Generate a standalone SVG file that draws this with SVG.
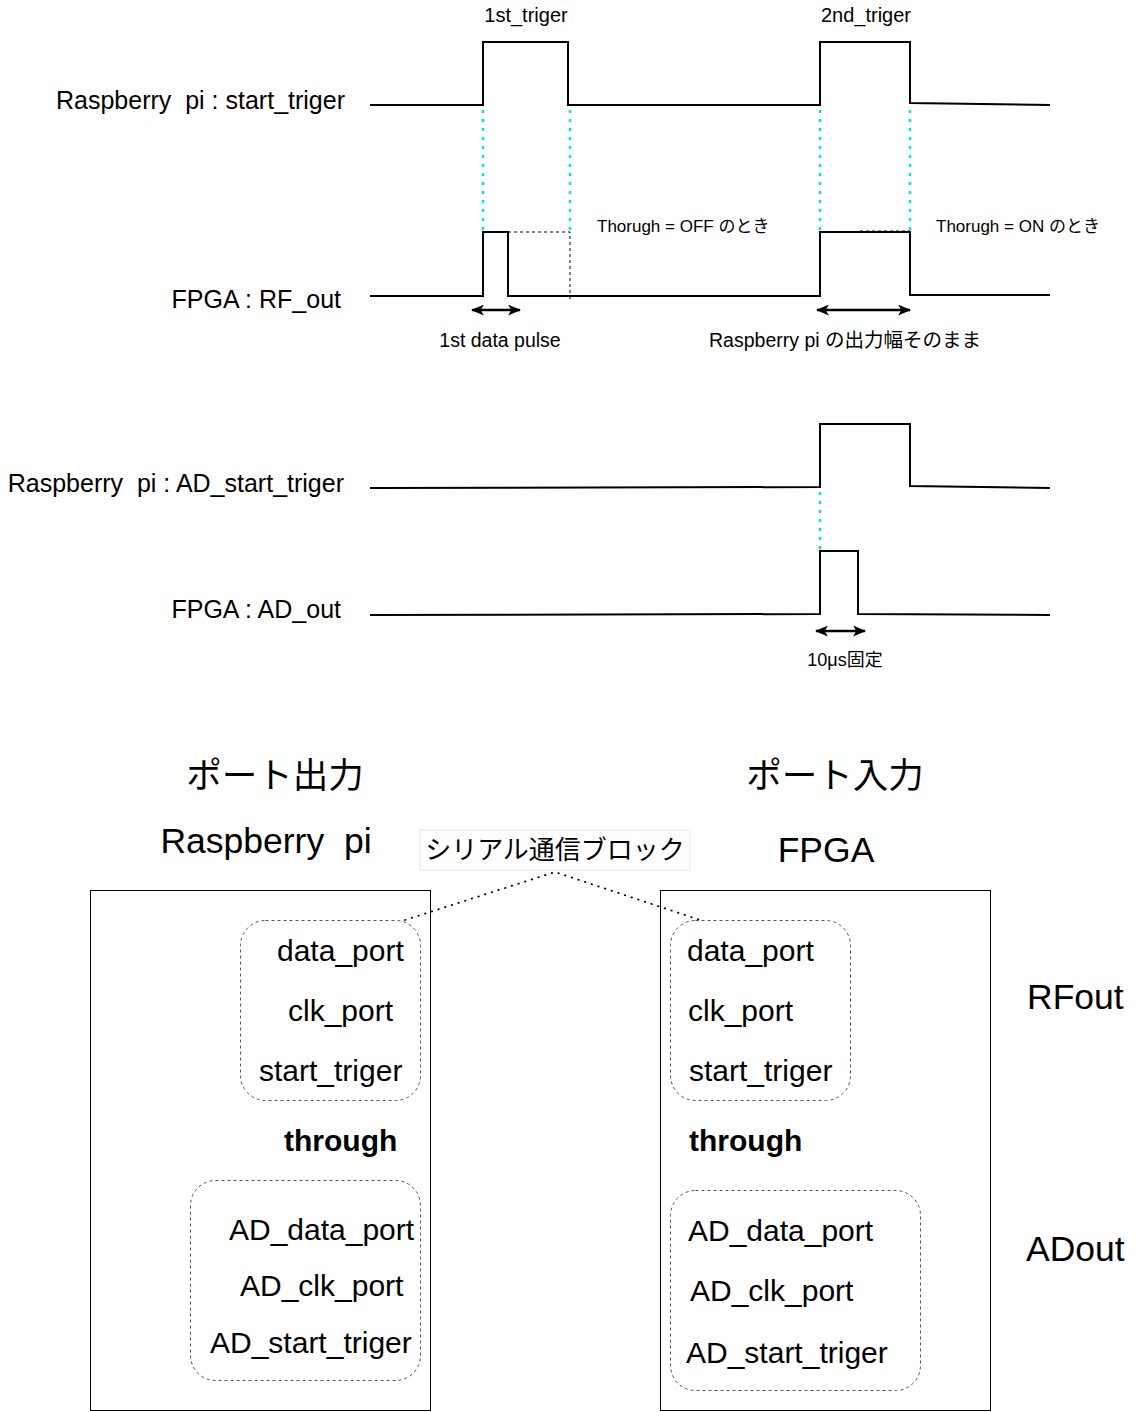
<svg xmlns="http://www.w3.org/2000/svg" width="1143" height="1412" viewBox="0 0 1143 1412">
<style>
text{font-family:"Liberation Sans",Arial,"Noto Sans CJK JP",sans-serif;fill:#000;white-space:pre}
.sig{fill:none;stroke:#000;stroke-width:2}
.cy{fill:none;stroke:#00e5e5;stroke-width:2.5;stroke-dasharray:3 6}
.dash{fill:none;stroke:#000;stroke-width:1;stroke-dasharray:3 3}
.arr{fill:none;stroke:#000;stroke-width:2.5;marker-start:url(#ah);marker-end:url(#ah)}
.box{fill:none;stroke:#000;stroke-width:1}
.grp{fill:none;stroke:#555;stroke-width:1;stroke-dasharray:3 3}
.dot{fill:none;stroke:#000;stroke-width:1.8;stroke-dasharray:0.5 6.5;stroke-linecap:round}
.lbl{font-size:25px}
.sm{font-size:19.5px}
.port{font-size:30px}
.big{font-size:35.5px}
</style>
<defs>
<marker id="ah" viewBox="0 0 12 10" refX="11" refY="5" markerWidth="13" markerHeight="11" orient="auto-start-reverse" markerUnits="userSpaceOnUse">
<path d="M0,0 L12,5 L0,10 L3,5 Z" fill="#000"/>
</marker>
</defs>
<rect width="1143" height="1412" fill="#fff"/>
<g id="timing">
<g id="start_triger">
<text class="lbl" x="345" y="109" text-anchor="end" xml:space="preserve">Raspberry  pi : start_triger</text>
<path class="sig" d="M370,105 H483 V42 H568 V105 H820 V42 H910 V103 L1050,105"/>
<text x="526" y="22" font-size="20" text-anchor="middle">1st_triger</text>
<text x="866" y="22" font-size="20" text-anchor="middle">2nd_triger</text>
</g>
<g id="rf_out">
<text class="lbl" x="341" y="308" text-anchor="end">FPGA : RF_out</text>
<path class="sig" d="M370,296 H483 V232 H508 V296 H820 V232 H910 V295 H1050"/>
<path class="dash" d="M508,232 H570 V300"/>
<path class="dash" d="M860,231 H910"/>
<text x="597" y="232" font-size="17">Thorugh = OFF のとき</text>
<text x="936" y="232" font-size="17">Thorugh = ON のとき</text>
<text class="sm" x="500" y="347" text-anchor="middle">1st data pulse</text>
<text class="sm" x="845" y="347" text-anchor="middle">Raspberry pi の出力幅そのまま</text>
</g>
<g id="ad_start_triger">
<text class="lbl" x="344" y="492" text-anchor="end" xml:space="preserve">Raspberry  pi : AD_start_triger</text>
<path class="sig" d="M370,488 L820,487 V424 H910 V486 L1050,488"/>
</g>
<g id="ad_out">
<text class="lbl" x="341" y="618" text-anchor="end">FPGA : AD_out</text>
<path class="sig" d="M370,615 L820,614 V551 H858 V614 L1050,615"/>
<text x="845" y="666" font-size="18" text-anchor="middle">10μs固定</text>
</g>
</g>
<g id="headers">
<text class="big" x="275" y="788" text-anchor="middle" font-size="36">ポート出力</text>
<text class="big" x="835" y="788" text-anchor="middle" font-size="36">ポート入力</text>
<text class="big" x="266" y="853" text-anchor="middle" xml:space="preserve">Raspberry  pi</text>
<text class="big" x="826" y="862" text-anchor="middle">FPGA</text>
</g>
<g id="serial_label">
<rect x="420" y="830" width="270" height="40" fill="#fff" stroke="#e6e6e6" stroke-width="1"/>
<text x="555" y="859" font-size="26" text-anchor="middle">シリアル通信ブロック</text>
</g>
<g id="raspi_box">
<rect class="box" x="90.5" y="890.5" width="340" height="520"/>
<rect class="grp" x="240.5" y="920.5" width="180" height="180" rx="25"/>
<text class="port" x="277" y="961">data_port</text>
<text class="port" x="288" y="1021">clk_port</text>
<text class="port" x="259" y="1081">start_triger</text>
<text class="port" x="284" y="1151" font-weight="bold">through</text>
<rect class="grp" x="190.5" y="1180.5" width="230" height="200" rx="25"/>
<text class="port" x="229" y="1240">AD_data_port</text>
<text class="port" x="240" y="1296">AD_clk_port</text>
<text class="port" x="210" y="1353">AD_start_triger</text>
</g>
<g id="fpga_box">
<rect class="box" x="660.5" y="890.5" width="330" height="520"/>
<rect class="grp" x="670.5" y="920.5" width="180" height="180" rx="25"/>
<text class="port" x="687" y="961">data_port</text>
<text class="port" x="688" y="1021">clk_port</text>
<text class="port" x="689" y="1081">start_triger</text>
<text class="port" x="689" y="1151" font-weight="bold">through</text>
<rect class="grp" x="670.5" y="1190.5" width="250" height="200" rx="25"/>
<text class="port" x="688" y="1241">AD_data_port</text>
<text class="port" x="690" y="1301">AD_clk_port</text>
<text class="port" x="686" y="1363">AD_start_triger</text>
</g>
<g id="outputs">
<text class="big" x="1027" y="1009">RFout</text>
<text class="big" x="1026" y="1261">ADout</text>
</g>
<g id="connectors">
<path class="cy" d="M483,110 V230"/>
<path class="cy" d="M570,110 V230"/>
<path class="cy" d="M820,110 V230"/>
<path class="cy" d="M910,110 V230"/>
<path class="cy" d="M820,492 V550"/>
<path class="arr" d="M472,310 H520"/>
<path class="arr" d="M817,310 H910"/>
<path class="arr" d="M816,631 H865"/>
<path class="dot" d="M405,920 L555,872 L700,920"/>
</g>
</svg>
